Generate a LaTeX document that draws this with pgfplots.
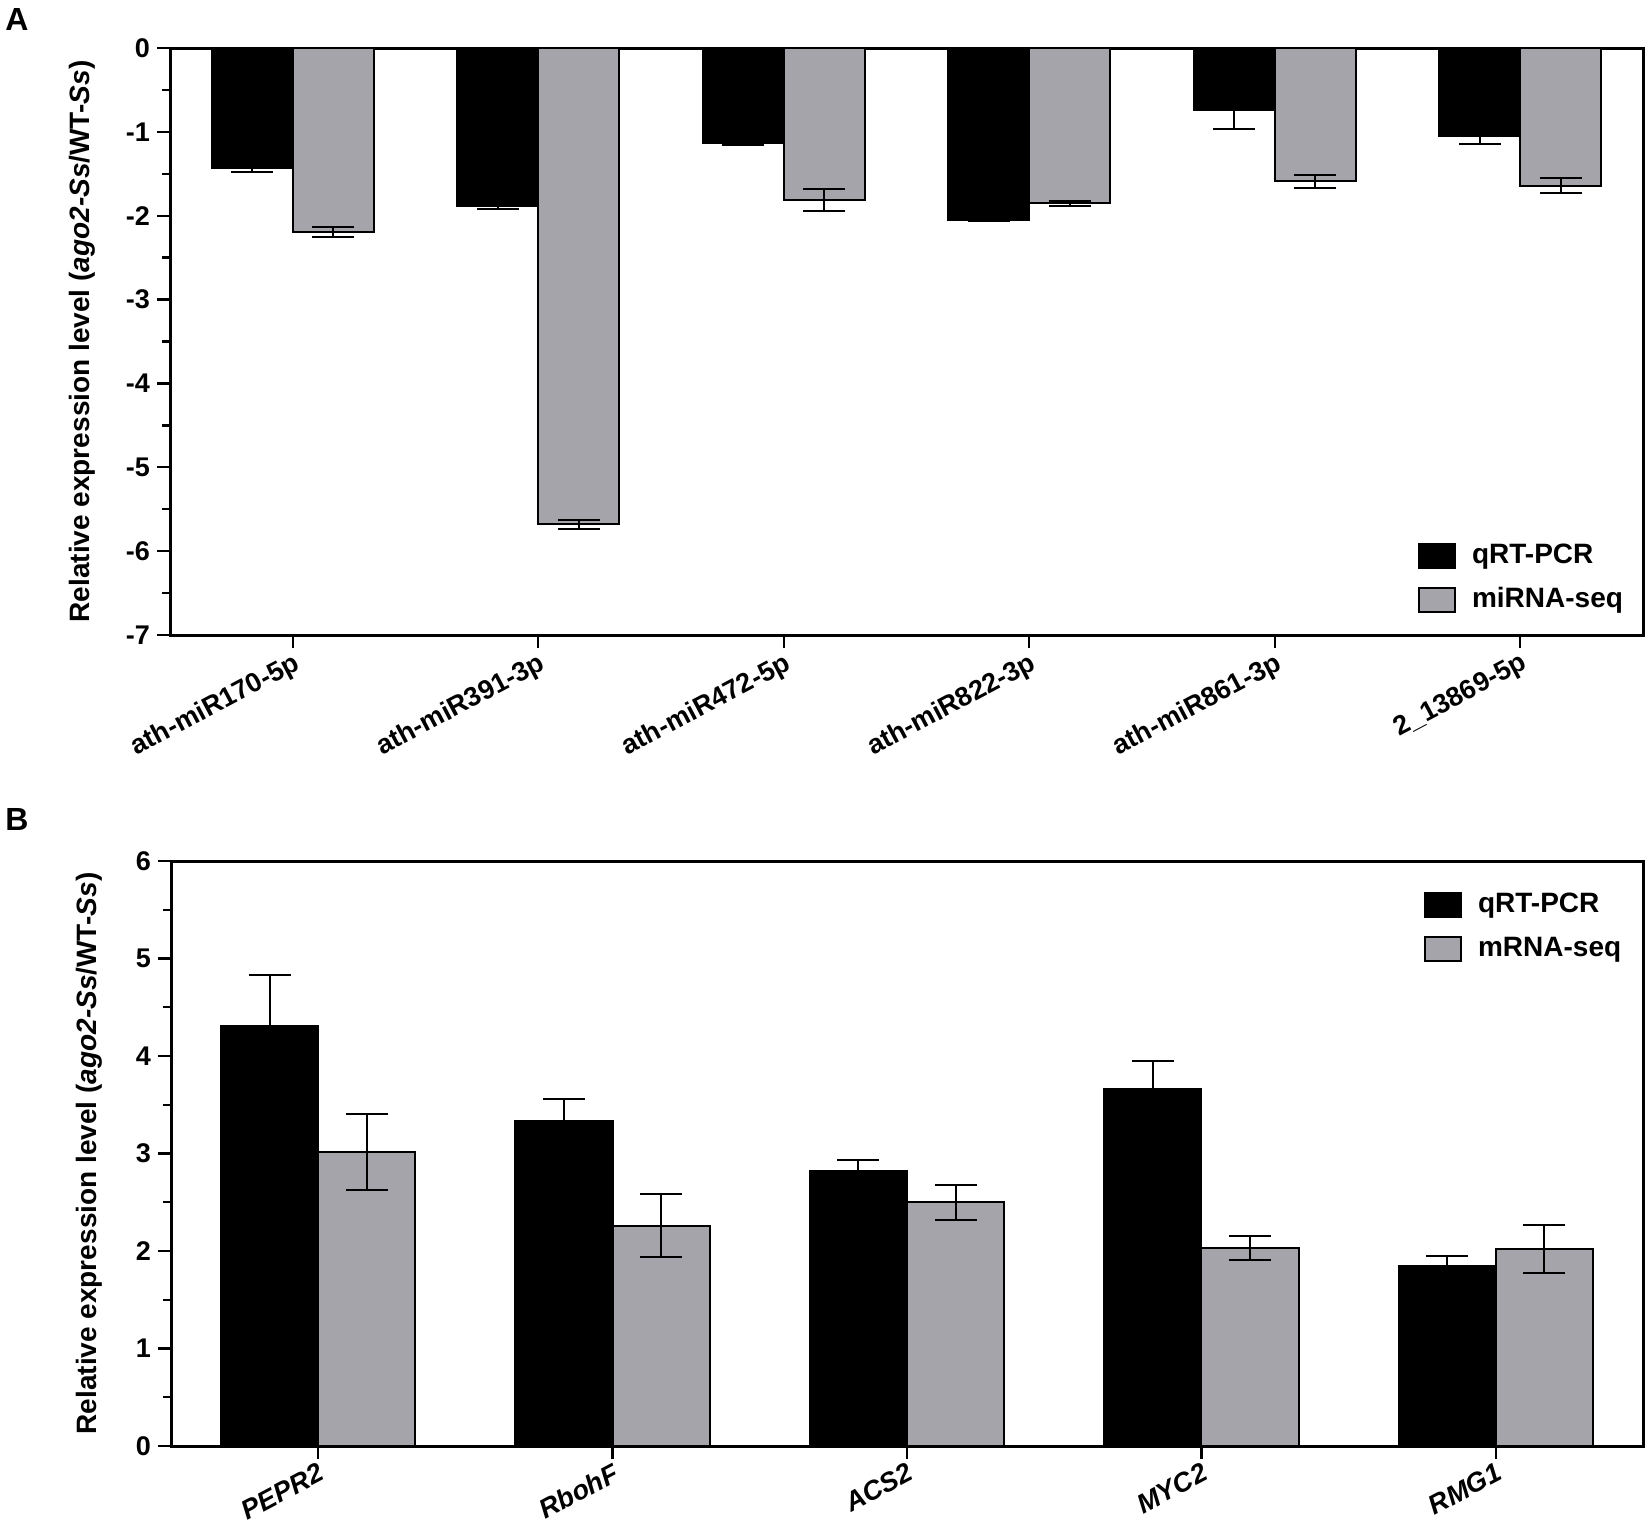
\documentclass[border=0pt]{standalone}
\usepackage{fontspec}
\setmainfont{Liberation Sans}
\usepackage{pgfplots}
\pgfplotsset{compat=1.18}
\definecolor{bargrey}{RGB}{165,164,170}

\pgfplotsset{
  mybars/.style={
    scale only axis,
    ybar=0pt,
    bar width=0.33,
    axis line style={line width=1.5pt},
    every tick/.style={line width=1.2pt, black},
    major tick length=6.5pt,
    minor tick length=4pt,
    tick align=outside,
    xtick pos=bottom,
    ytick pos=left,
    minor y tick num=1,
    /pgf/number format/assume math mode=true,
    yticklabel style={font=\fontsize{13.5}{15}\selectfont\bfseries},
    xticklabel style={rotate=28, anchor=north east, inner sep=1pt},
    ylabel style={font=\fontsize{14}{16}\selectfont\bfseries},
    every axis plot/.append style={draw=black, line width=1pt},
    legend cell align=left,
    legend image code/.code={\draw[#1, line width=1pt] (0pt,-6pt) rectangle (18pt,6pt);},
    legend style={draw=none, fill=none, inner sep=0pt, row sep=9pt, column sep=8pt,
      font=\fontsize{14}{16}\selectfont\bfseries,
      nodes={inner sep=0pt, text height=10pt, text depth=3pt}},
    error bars/error bar style={line width=1pt, black, solid},
    error bars/error mark options={line width=1pt, black, rotate=90, mark size=10.5pt},
  }
}

\begin{document}
\begin{tikzpicture}[x=1pt,y=1pt]
\path[use as bounding box] (0,0) rectangle (825,-767.5);
\node[anchor=north west, inner sep=0pt, font=\fontsize{16}{18}\selectfont\bfseries] at (2.5,-4) {A};
\node[anchor=north west, inner sep=0pt, font=\fontsize{16}{18}\selectfont\bfseries] at (2.5,-404) {B};

\begin{axis}[mybars,
  at={(85pt,-317.5pt)}, anchor=south west,
  width=736.5pt, height=293.5pt,
  xmin=-0.5, xmax=5.5, ymin=-7, ymax=0,
  ytick={-7,-6,-5,-4,-3,-2,-1,0},
  xtick={0,1,2,3,4,5},
  xticklabels={ath-miR170-5p,ath-miR391-3p,ath-miR472-5p,ath-miR822-3p,ath-miR861-3p,2\_13869-5p},
  xticklabel style={font=\fontsize{13.5}{15}\selectfont\bfseries},
  ylabel={Relative expression level (\textit{ago2-Ss}/WT-\textit{Ss})},
  ylabel style={at={(axis description cs:-0.0597,0.5)}, anchor=center},
  legend style={at={(axis description cs:0.847,0.157)}, anchor=north west},
]
\addplot[fill=black, error bars/.cd, y dir=both, y explicit] coordinates {
  (0,-1.43) +- (0,0.05)
  (1,-1.88) +- (0,0.04)
  (2,-1.13) +- (0,0.03)
  (3,-2.05) +- (0,0.01)
  (4,-0.74) +- (0,0.23)
  (5,-1.05) +- (0,0.09)
};
\addplot[fill=bargrey, error bars/.cd, y dir=both, y explicit] coordinates {
  (0,-2.19) +- (0,0.06)
  (1,-5.68) +- (0,0.05)
  (2,-1.81) +- (0,0.13)
  (3,-1.85) +- (0,0.03)
  (4,-1.59) +- (0,0.075)
  (5,-1.64) +- (0,0.085)
};
\legend{qRT-PCR,miRNA-seq}
\end{axis}

\begin{axis}[mybars,
  at={(85.5pt,-723pt)}, anchor=south west,
  width=736pt, height=292.5pt,
  xmin=-0.5, xmax=4.5, ymin=0, ymax=6,
  ytick={0,1,2,3,4,5,6},
  xtick={0,1,2,3,4},
  xticklabels={PEPR2,RbohF,ACS2,MYC2,RMG1},
  xticklabel style={font=\fontsize{13.5}{15}\selectfont\bfseries\itshape},
  ylabel={Relative expression level (\textit{ago2-Ss}/WT-\textit{Ss})},
  ylabel style={at={(axis description cs:-0.0557,0.5)}, anchor=center},
  legend style={at={(axis description cs:0.851,0.947)}, anchor=north west},
]
\addplot[fill=black, error bars/.cd, y dir=both, y explicit] coordinates {
  (0,4.31) +- (0,0.52)
  (1,3.33) +- (0,0.23)
  (2,2.82) +- (0,0.11)
  (3,3.66) +- (0,0.29)
  (4,1.85) +- (0,0.10)
};
\addplot[fill=bargrey, error bars/.cd, y dir=both, y explicit] coordinates {
  (0,3.02) +- (0,0.39)
  (1,2.26) +- (0,0.32)
  (2,2.50) +- (0,0.18)
  (3,2.03) +- (0,0.12)
  (4,2.02) +- (0,0.25)
};
\legend{qRT-PCR,mRNA-seq}
\end{axis}
\end{tikzpicture}
\end{document}
